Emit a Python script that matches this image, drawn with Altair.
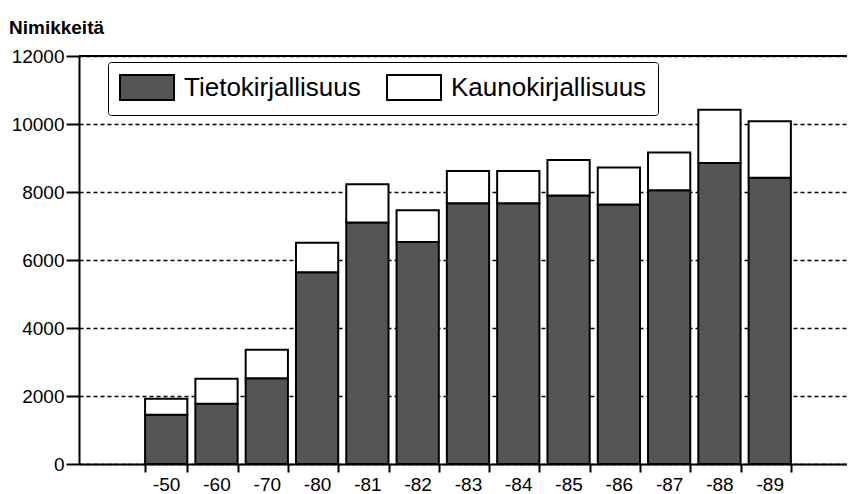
import altair as alt
import pandas as pd

years = ["-50", "-60", "-70", "-80", "-81", "-82", "-83", "-84", "-85", "-86", "-87", "-88", "-89"]
tieto = [1450, 1770, 2520, 5640, 7100, 6530, 7670, 7670, 7900, 7630, 8050, 8850, 8420]
kauno = [470, 740, 840, 870, 1130, 930, 950, 950, 1040, 1090, 1110, 1570, 1660]
series = ["Tietokirjallisuus", "Kaunokirjallisuus"]
y_ticks = [0, 2000, 4000, 6000, 8000, 10000, 12000]
# empty slots at both ends of the category axis (as in the original)
x_domain = [""] + years + [" "]

rows = []
for i, yr in enumerate(years):
    rows.append({"vuosi": yr, "laji": series[0], "arvo": tieto[i], "jarj": 0})
    rows.append({"vuosi": yr, "laji": series[1], "arvo": kauno[i], "jarj": 1})
df = pd.DataFrame(rows)

FONT = "Liberation Sans"
# wide rectangle swatch; drawn from the symbol's left edge
rect_path = "M-1,-0.92L3,-0.92L3,0.92L-1,0.92Z"

bars = alt.Chart(df).mark_bar(stroke="black", strokeWidth=2).encode(
    x=alt.X("vuosi:N", title=None,
            scale=alt.Scale(domain=x_domain, paddingInner=0.16, paddingOuter=0.215, align=0.73),
            axis=alt.Axis(values=years, labelAngle=0, labelFontSize=19, labelFont=FONT,
                          labelColor="black", tickColor="black", tickSize=8, tickWidth=2,
                          tickBand="extent", domainColor="black", domainWidth=2,
                          labelPadding=3, grid=False)),
    y=alt.Y("arvo:Q", stack="zero", title=None,
            scale=alt.Scale(domain=[0, 12000], nice=False),
            axis=alt.Axis(values=y_ticks, format="d", labelFontSize=19, labelFont=FONT,
                          labelColor="black", tickColor="black", tickSize=13, tickWidth=2,
                          labelPadding=2, domainColor="black", domainWidth=2,
                          grid=True, gridColor="black", gridDash=[4, 3], gridWidth=1.5)),
    color=alt.Color("laji:N", sort=series,
                    scale=alt.Scale(domain=series, range=["#555555", "white"]),
                    legend=alt.Legend(orient="none", legendX=29, legendY=6, direction="horizontal",
                                      title=None, strokeColor="black", padding=11, cornerRadius=3,
                                      labelFontSize=26, labelFont=FONT, labelColor="black",
                                      labelLimit=400,
                                      symbolType=rect_path, symbolSize=729,
                                      symbolStrokeColor="black", symbolStrokeWidth=2,
                                      symbolOpacity=1,
                                      columnPadding=22, labelOffset=36)),
    order=alt.Order("jarj:Q"),
)

top_line = alt.Chart(df).mark_rule(color="black", strokeWidth=2).encode(
    y=alt.datum(12000)
)

chart = alt.layer(bars, top_line).properties(
    width=768,
    height=408,
    autosize=alt.AutoSizeParams(type="none"),
    padding={"left": 71, "top": 48, "right": 0, "bottom": 30},
    title=alt.TitleParams("Nimikkeitä", anchor="start", frame="group", dx=-70, offset=9,
                          font=FONT, fontSize=19, fontWeight="bold", color="black"),
).configure_view(stroke=None).configure_legend(strokeWidth=2).configure(background="white")

chart.save("out.html", embed_options={"renderer": "svg", "actions": False})
